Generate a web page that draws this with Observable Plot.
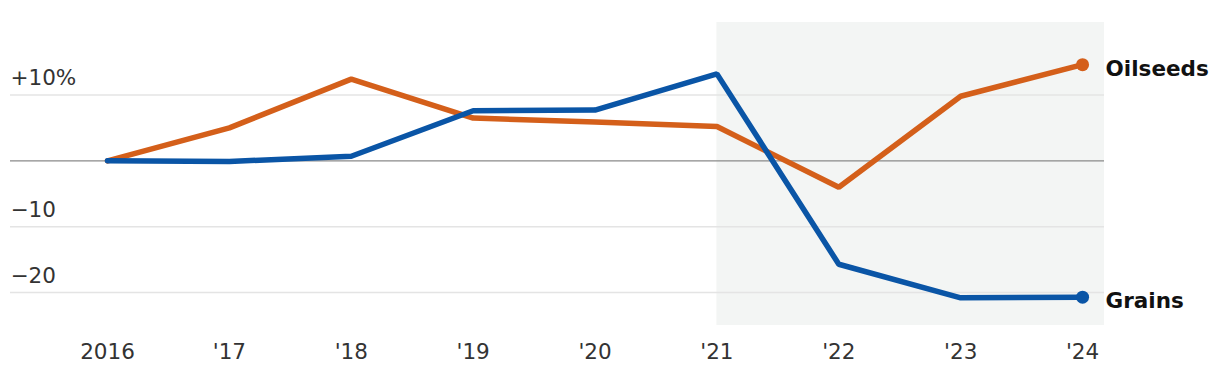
<!DOCTYPE html>
<html>
<head>
<meta charset="utf-8">
<script src="https://cdn.jsdelivr.net/npm/d3@7"></script>
<script src="https://cdn.jsdelivr.net/npm/@observablehq/plot@0.6"></script>
<style>
  html, body { margin: 0; padding: 0; background: #fff; }
  #chart svg { display: block; }
</style>
</head>
<body>
<div id="chart"></div>
<script>
const years = [2016, 2017, 2018, 2019, 2020, 2021, 2022, 2023, 2024];
const xTickLabels = ["2016", "'17", "'18", "'19", "'20", "'21", "'22", "'23", "'24"];
const oilseeds = [0, 5.0, 12.4, 6.5, 5.9, 5.2, -4.0, 9.8, 14.6];
const grains = [0, -0.1, 0.7, 7.6, 7.7, 13.2, -15.7, -20.8, -20.7];
const seriesNames = ["Oilseeds", "Grains"];
const seriesColors = ["#d45f1a", "#0a55a6"];
const yTicks = [10, -10, -20];
const yTickLabels = ["+10%", "\u221210", "\u221220"];
const shadeStartYear = 2021;

const xDomain = [2015.204, 2024.18];
const yDomain = [-25, 21];

const rows = [];
seriesNames.forEach((name, s) => {
  const vals = s === 0 ? oilseeds : grains;
  years.forEach((yr, i) => rows.push({series: name, year: yr, value: vals[i]}));
});
const lastRows = seriesNames.map(name => rows.filter(r => r.series === name).at(-1));
const yTickRows = yTicks.map((v, i) => ({v, label: yTickLabels[i]}));

const font = "DejaVu Sans";

const chart = Plot.plot({
  width: 1220,
  height: 384,
  marginLeft: 10,
  marginRight: 116,
  marginTop: 22,
  marginBottom: 59,
  style: {fontFamily: font, background: "#fff"},
  x: {domain: xDomain, axis: null},
  y: {domain: yDomain, axis: null},
  color: {domain: seriesNames, range: seriesColors},
  marks: [
    Plot.rect([{x1: shadeStartYear, x2: xDomain[1]}], {x1: "x1", x2: "x2", fill: "#f3f5f4"}),
    Plot.ruleY(yTicks, {stroke: "#e4e4e4", strokeWidth: 1.6}),
    Plot.ruleY([0], {stroke: "#8a8a8a", strokeWidth: 1.2}),
    Plot.text(yTickRows, {x: xDomain[0], y: "v", text: "label", textAnchor: "start", lineAnchor: "bottom", dy: -9.5, fontSize: 21.5, fill: "#333"}),
    Plot.axisX(years, {tickSize: 0, tickPadding: 18, tickFormat: d => xTickLabels[years.indexOf(d)], fontSize: 21.5, fill: "#333", label: null}),
    Plot.line(rows, {x: "year", y: "value", z: "series", stroke: "series", strokeWidth: 5.5, strokeLinejoin: "miter", strokeLinecap: "round"}),
    Plot.dot(lastRows, {x: "year", y: "value", fill: "series", r: 6.5}),
    Plot.text(lastRows, {x: "year", y: "value", text: "series", textAnchor: "start", dx: 23, dy: 4, fontSize: 21.5, fontWeight: "bold", fill: "#111"})
  ]
});
document.getElementById("chart").appendChild(chart);
</script>
</body>
</html>
